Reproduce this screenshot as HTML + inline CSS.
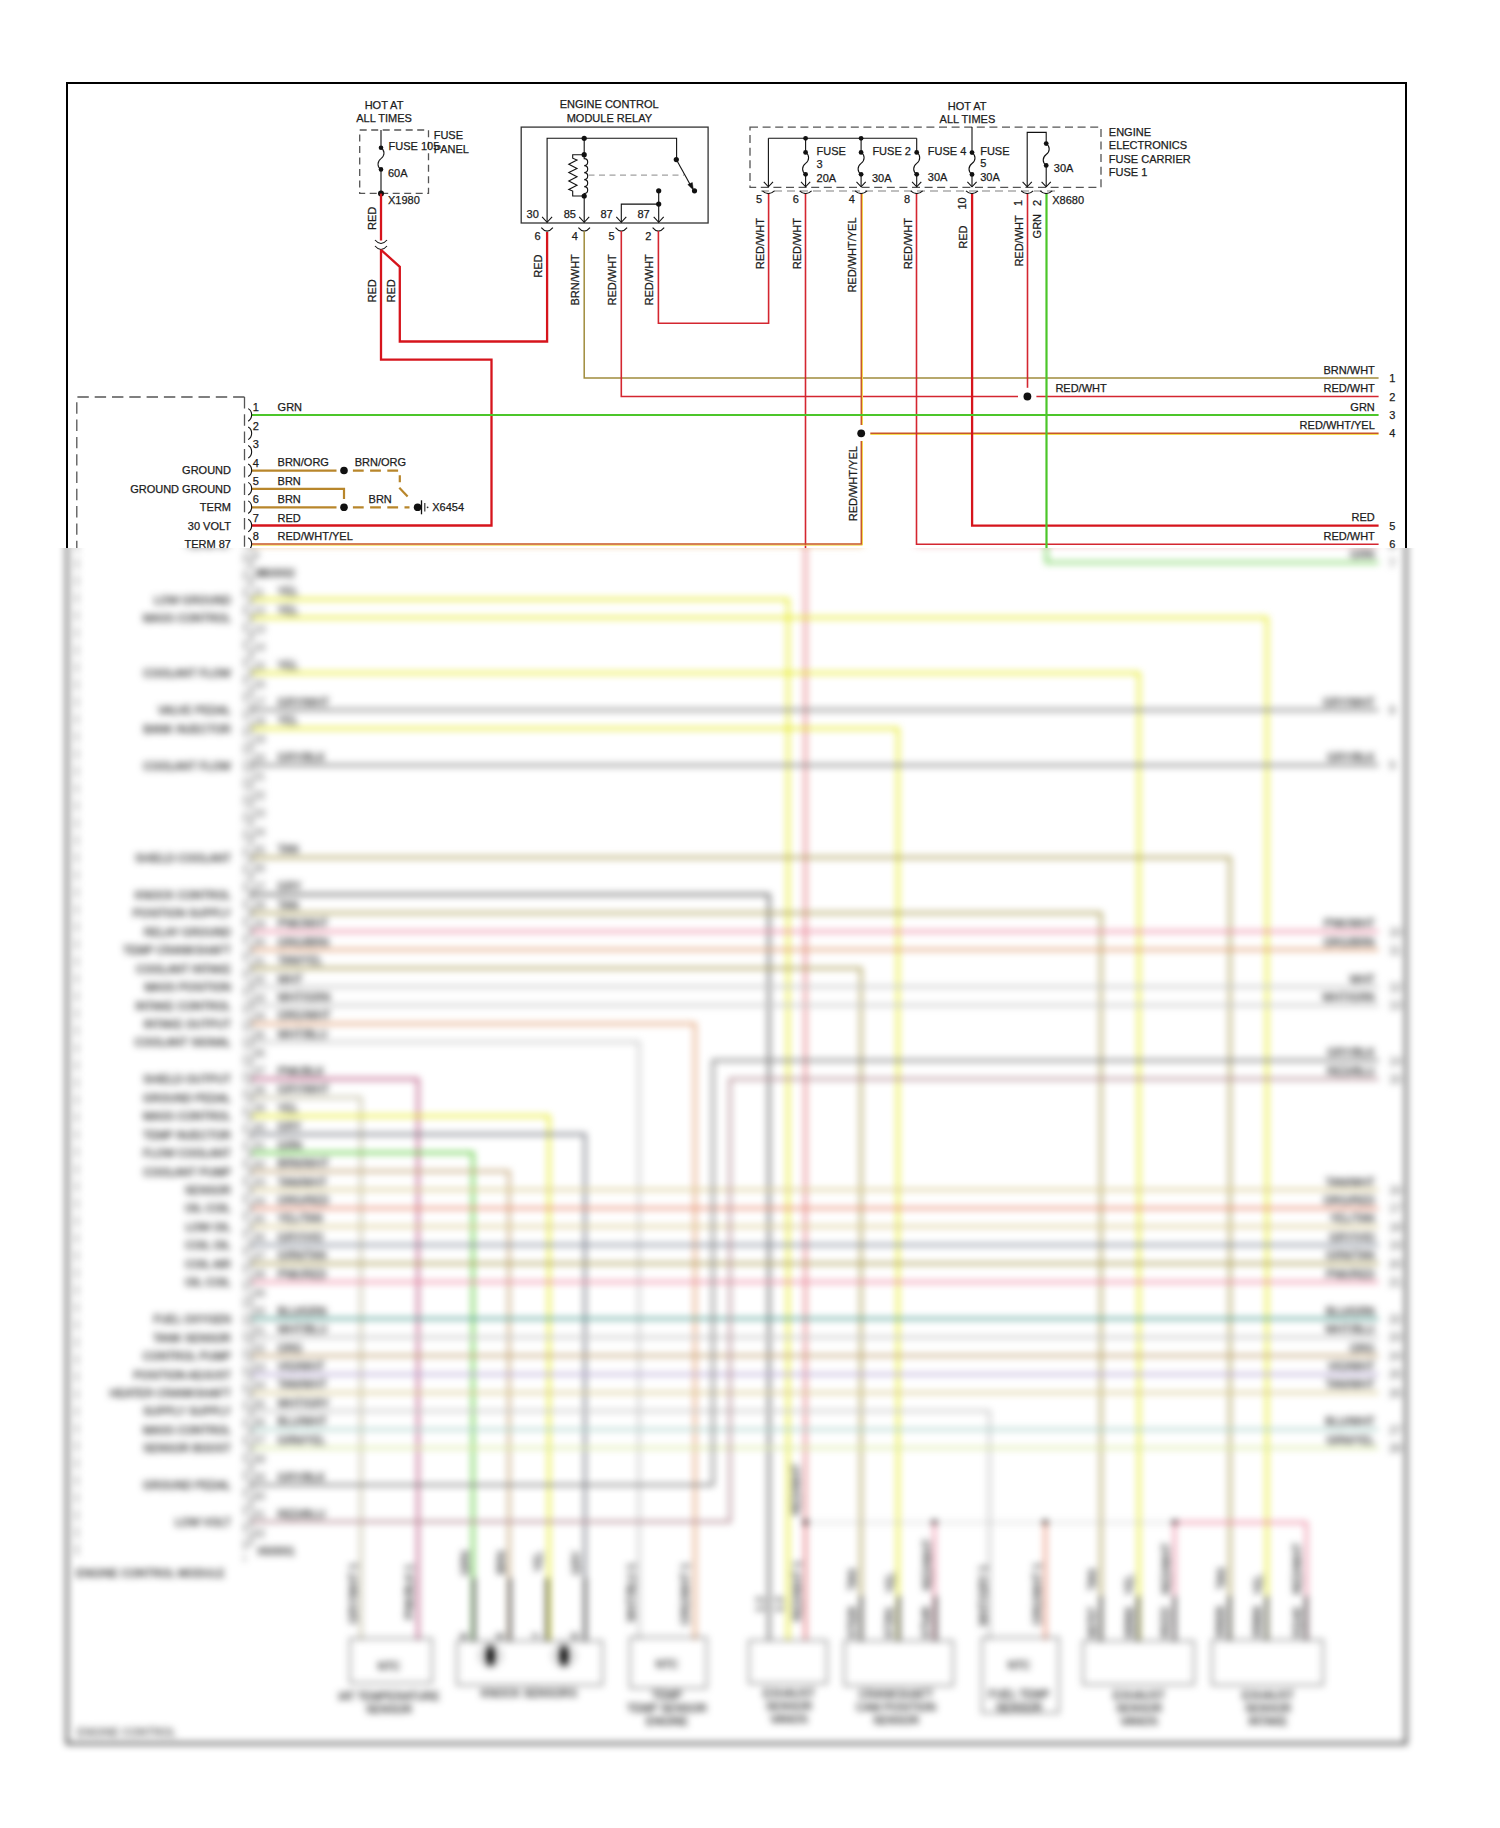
<!DOCTYPE html>
<html><head><meta charset="utf-8"><title>Wiring Diagram</title>
<style>
html,body{margin:0;padding:0;background:#fff;}
body{width:1500px;height:1828px;overflow:hidden;}
svg{display:block;}
.lb text{stroke-width:0.3px;}
text{font-family:"Liberation Sans",Arial,sans-serif;font-size:11px;fill:#1c1c1c;stroke:#1c1c1c;stroke-width:0.25px;}
</style></head><body>
<svg width="1500" height="1828" viewBox="0 0 1500 1828">
<defs>
<clipPath id="ct"><rect x="0" y="0" width="1500" height="548"/></clipPath>
<clipPath id="cb"><rect x="0" y="548" width="1500" height="1280"/></clipPath>
<filter id="bl" x="-2%" y="-2%" width="104%" height="104%" color-interpolation-filters="sRGB"><feGaussianBlur stdDeviation="3.5"/></filter>
</defs>
<rect width="1500" height="1828" fill="#fff"/>
<g clip-path="url(#ct)"><g id="dia">
<rect x="67" y="83" width="1339" height="1660.5" fill="none" stroke="#000" stroke-width="2"/>
<text x="384" y="109" text-anchor="middle">HOT AT</text>
<text x="384" y="122.2" text-anchor="middle">ALL TIMES</text>
<rect x="359.7" y="130" width="68.8" height="63.4" fill="none" stroke="#555" stroke-width="1.3" stroke-dasharray="7,4.5"/>
<line x1="381" y1="130" x2="381" y2="147.8" stroke="#333" stroke-width="1.3" stroke-linecap="butt"/>
<path d="M381,147.8 C385,150.39 385,155.58 381,158.6 C377,161.62 377,166.81 381,169.4" fill="none" stroke="#222" stroke-width="1.1"/>
<line x1="381" y1="169.4" x2="381" y2="193.6" stroke="#333" stroke-width="1.3" stroke-linecap="butt"/>
<circle cx="381" cy="147.8" r="2.3" fill="#111"/>
<circle cx="381" cy="169.4" r="2.3" fill="#111"/>
<circle cx="381" cy="193.6" r="3" fill="#111"/>
<text x="388.5" y="150">FUSE 105</text>
<text x="388" y="176.5">60A</text>
<text x="433.7" y="139.2">FUSE</text>
<text x="433.7" y="152.9">PANEL</text>
<text x="388" y="203.8">X1980</text>
<line x1="381" y1="193.6" x2="381" y2="240.5" stroke="#d6141c" stroke-width="2.3" stroke-linecap="butt"/>
<path d="M375,240 Q381,247 387,240" fill="none" stroke="#111" stroke-width="1.1"/>
<path d="M375,246 Q381,253 387,246" fill="none" stroke="#111" stroke-width="1.1"/>
<text transform="translate(376 230) rotate(-90)">RED</text>
<polyline points="381,249.8 381,359.6 491.5,359.6 491.5,525.5 252,525.5" fill="none" stroke="#d6141c" stroke-width="2.3" stroke-linejoin="miter"/>
<polyline points="381,249.8 399.8,266.8 399.8,341.5 547.1,341.5 547.1,232" fill="none" stroke="#d6141c" stroke-width="2.3" stroke-linejoin="miter"/>
<text transform="translate(376 302.5) rotate(-90)">RED</text>
<text transform="translate(395 302.5) rotate(-90)">RED</text>
<text x="609.2" y="108.3" text-anchor="middle">ENGINE CONTROL</text>
<text x="609.4" y="121.6" text-anchor="middle">MODULE RELAY</text>
<rect x="521.2" y="127.1" width="186.9" height="95.9" fill="none" stroke="#333" stroke-width="1.3"/>
<polyline points="547.1,222.5 547.1,138.3 676.6,138.3 676.6,159.6" fill="none" stroke="#111" stroke-width="1.1" stroke-linejoin="miter"/>
<polyline points="542.1,216.8 547.1,222.3 552.1,216.8" fill="none" stroke="#111" stroke-width="1.1" stroke-linejoin="miter"/>
<circle cx="584.2" cy="138.3" r="2.6" fill="#111"/>
<line x1="584.2" y1="138.3" x2="584.2" y2="154.7" stroke="#111" stroke-width="1.1" stroke-linecap="butt"/>
<circle cx="584.2" cy="154.7" r="2.6" fill="#111"/>
<path d="M584.2,154.7 L584.2,158.6 a3.5,3.5 0 0 1 0,7 a3.5,3.5 0 0 1 0,7 a3.5,3.5 0 0 1 0,7 a3.5,3.5 0 0 1 0,7 a3.5,3.5 0 0 1 0,7 L584.2,196" fill="none" stroke="#111" stroke-width="1.1"/>
<polyline points="584.2,154.7 572.7,154.7 572.7,158.2 577,160 568.8,164.2 577,168.4 568.8,172.6 577,176.8 568.8,181 577,185.2 568.8,189.4 572.7,191 572.7,196 584.2,196" fill="none" stroke="#111" stroke-width="1.1" stroke-linejoin="miter"/>
<circle cx="584.2" cy="196" r="2.6" fill="#111"/>
<line x1="584.2" y1="196" x2="584.2" y2="222.5" stroke="#111" stroke-width="1.1" stroke-linecap="butt"/>
<polyline points="579.2,216.8 584.2,222.3 589.2,216.8" fill="none" stroke="#111" stroke-width="1.1" stroke-linejoin="miter"/>
<line x1="588.5" y1="175.1" x2="684" y2="175.1" stroke="#888" stroke-width="1" stroke-linecap="butt" stroke-dasharray="6,4.5"/>
<circle cx="676.3" cy="159.6" r="2.6" fill="#111"/>
<line x1="676.3" y1="159.6" x2="691.8" y2="187.5" stroke="#111" stroke-width="1.1" stroke-linecap="butt"/>
<path d="M693.4,190 L687.8,184.6 L692.3,182.6 Z" fill="#111" stroke="#111" stroke-width="0.5"/>
<circle cx="694.5" cy="190.8" r="2.6" fill="#111"/>
<circle cx="658.7" cy="190.8" r="2.6" fill="#111"/>
<circle cx="658.7" cy="204.1" r="2.6" fill="#111"/>
<line x1="658.7" y1="190.8" x2="658.7" y2="222.5" stroke="#111" stroke-width="1.1" stroke-linecap="butt"/>
<polyline points="658.7,204.1 621.3,204.1 621.3,222.5" fill="none" stroke="#111" stroke-width="1.1" stroke-linejoin="miter"/>
<polyline points="616.3,216.8 621.3,222.3 626.3,216.8" fill="none" stroke="#111" stroke-width="1.1" stroke-linejoin="miter"/>
<polyline points="653.7,216.8 658.7,222.3 663.7,216.8" fill="none" stroke="#111" stroke-width="1.1" stroke-linejoin="miter"/>
<text x="526.6" y="218.2">30</text>
<text x="563.7" y="218.2">85</text>
<text x="600.5" y="218.2">87</text>
<text x="637.5" y="218.2">87</text>
<path d="M541.3,227.6 Q547.1,234.6 552.9,227.6" fill="none" stroke="#111" stroke-width="1.1"/>
<path d="M578.4,227.6 Q584.2,234.6 590,227.6" fill="none" stroke="#111" stroke-width="1.1"/>
<path d="M615.5,227.6 Q621.3,234.6 627.1,227.6" fill="none" stroke="#111" stroke-width="1.1"/>
<path d="M652.6,227.6 Q658.4,234.6 664.2,227.6" fill="none" stroke="#111" stroke-width="1.1"/>
<text x="534.6" y="239.6">6</text>
<text x="571.7" y="239.6">4</text>
<text x="608.4" y="239.6">5</text>
<text x="645.2" y="239.6">2</text>
<text transform="translate(541.8 277.8) rotate(-90)">RED</text>
<text transform="translate(579.3 305.5) rotate(-90)">BRN/WHT</text>
<text transform="translate(616 305.5) rotate(-90)">RED/WHT</text>
<text transform="translate(653 305.5) rotate(-90)">RED/WHT</text>
<polyline points="584.2,231 584.2,377.9 1378.6,377.9" fill="none" stroke="#a08c3c" stroke-width="1.5" stroke-linejoin="miter"/>
<polyline points="621.3,231 621.3,396.5 1018,396.5" fill="none" stroke="#d42630" stroke-width="1.6" stroke-linejoin="miter"/>
<line x1="1036.4" y1="396.5" x2="1378.6" y2="396.5" stroke="#d42630" stroke-width="1.6" stroke-linecap="butt"/>
<polyline points="658.4,231 658.4,323.3 768.6,323.3 768.6,193" fill="none" stroke="#d42630" stroke-width="1.6" stroke-linejoin="miter"/>
<text x="967.2" y="109.7" text-anchor="middle">HOT AT</text>
<text x="967.4" y="122.5" text-anchor="middle">ALL TIMES</text>
<rect x="750" y="127.1" width="351" height="60.2" fill="none" stroke="#555" stroke-width="1.3" stroke-dasharray="8,4.6"/>
<line x1="761" y1="191" x2="1056" y2="191" stroke="#aaa" stroke-width="1.3" stroke-linecap="butt" stroke-dasharray="8,5"/>
<line x1="768.4" y1="138.3" x2="916.7" y2="138.3" stroke="#111" stroke-width="1.1" stroke-linecap="butt"/>
<line x1="768.4" y1="138.3" x2="768.4" y2="186.8" stroke="#111" stroke-width="1.1" stroke-linecap="butt"/>
<polyline points="763.8,181.8 768.4,186.8 773,181.8" fill="none" stroke="#111" stroke-width="1.1" stroke-linejoin="miter"/>
<line x1="805.6" y1="138.3" x2="805.6" y2="152.4" stroke="#111" stroke-width="1.1" stroke-linecap="butt"/>
<path d="M805.6,152.4 C809.6,155.03 809.6,160.28 805.6,163.35 C801.6,166.42 801.6,171.67 805.6,174.3" fill="none" stroke="#111" stroke-width="1.1"/>
<line x1="805.6" y1="174.3" x2="805.6" y2="186.8" stroke="#111" stroke-width="1.1" stroke-linecap="butt"/>
<circle cx="805.6" cy="152.4" r="2.4" fill="#111"/>
<circle cx="805.6" cy="174.3" r="2.4" fill="#111"/>
<polyline points="801,181.8 805.6,186.8 810.2,181.8" fill="none" stroke="#111" stroke-width="1.1" stroke-linejoin="miter"/>
<line x1="861.1" y1="138.3" x2="861.1" y2="152.4" stroke="#111" stroke-width="1.1" stroke-linecap="butt"/>
<path d="M861.1,152.4 C865.1,155.03 865.1,160.28 861.1,163.35 C857.1,166.42 857.1,171.67 861.1,174.3" fill="none" stroke="#111" stroke-width="1.1"/>
<line x1="861.1" y1="174.3" x2="861.1" y2="186.8" stroke="#111" stroke-width="1.1" stroke-linecap="butt"/>
<circle cx="861.1" cy="152.4" r="2.4" fill="#111"/>
<circle cx="861.1" cy="174.3" r="2.4" fill="#111"/>
<polyline points="856.5,181.8 861.1,186.8 865.7,181.8" fill="none" stroke="#111" stroke-width="1.1" stroke-linejoin="miter"/>
<line x1="916.7" y1="138.3" x2="916.7" y2="152.4" stroke="#111" stroke-width="1.1" stroke-linecap="butt"/>
<path d="M916.7,152.4 C920.7,155.03 920.7,160.28 916.7,163.35 C912.7,166.42 912.7,171.67 916.7,174.3" fill="none" stroke="#111" stroke-width="1.1"/>
<line x1="916.7" y1="174.3" x2="916.7" y2="186.8" stroke="#111" stroke-width="1.1" stroke-linecap="butt"/>
<circle cx="916.7" cy="152.4" r="2.4" fill="#111"/>
<circle cx="916.7" cy="174.3" r="2.4" fill="#111"/>
<polyline points="912.1,181.8 916.7,186.8 921.3,181.8" fill="none" stroke="#111" stroke-width="1.1" stroke-linejoin="miter"/>
<circle cx="805.6" cy="138.3" r="2.4" fill="#111"/>
<circle cx="861.1" cy="138.3" r="2.4" fill="#111"/>
<line x1="972" y1="127" x2="972" y2="152.6" stroke="#111" stroke-width="1.1" stroke-linecap="butt"/>
<path d="M972,152.6 C976,155.22 976,160.45 972,163.5 C968,166.55 968,171.78 972,174.4" fill="none" stroke="#111" stroke-width="1.1"/>
<line x1="972" y1="174.4" x2="972" y2="186.8" stroke="#111" stroke-width="1.1" stroke-linecap="butt"/>
<circle cx="972" cy="152.6" r="2.4" fill="#111"/>
<circle cx="972" cy="174.4" r="2.4" fill="#111"/>
<polyline points="967.4,181.8 972,186.8 976.6,181.8" fill="none" stroke="#111" stroke-width="1.1" stroke-linejoin="miter"/>
<polyline points="1027.2,186.8 1027.2,132.4 1046.2,132.4 1046.2,143.6" fill="none" stroke="#111" stroke-width="1.1" stroke-linejoin="miter"/>
<polyline points="1022.6,181.8 1027.2,186.8 1031.8,181.8" fill="none" stroke="#111" stroke-width="1.1" stroke-linejoin="miter"/>
<path d="M1046.2,143.6 C1050.2,146.22 1050.2,151.45 1046.2,154.5 C1042.2,157.55 1042.2,162.78 1046.2,165.4" fill="none" stroke="#111" stroke-width="1.1"/>
<line x1="1046.2" y1="165.4" x2="1046.2" y2="186.8" stroke="#111" stroke-width="1.1" stroke-linecap="butt"/>
<circle cx="1046.2" cy="143.6" r="2.4" fill="#111"/>
<circle cx="1046.2" cy="165.4" r="2.4" fill="#111"/>
<polyline points="1041.6,181.8 1046.2,186.8 1050.8,181.8" fill="none" stroke="#111" stroke-width="1.1" stroke-linejoin="miter"/>
<text x="816.6" y="154.8">FUSE</text>
<text x="816.6" y="167.7">3</text>
<text x="816.6" y="181.8">20A</text>
<text x="872.4" y="154.8">FUSE 2</text>
<text x="872" y="181.8">30A</text>
<text x="927.8" y="154.5">FUSE 4</text>
<text x="927.8" y="180.5">30A</text>
<text x="980.2" y="154.5">FUSE</text>
<text x="980.2" y="167.2">5</text>
<text x="980.2" y="180.5">30A</text>
<text x="1053.8" y="171.5">30A</text>
<text x="1108.8" y="135.7">ENGINE</text>
<text x="1108.8" y="149.1">ELECTRONICS</text>
<text x="1108.8" y="162.5">FUSE CARRIER</text>
<text x="1108.8" y="175.7">FUSE 1</text>
<path d="M762.4,190.8 Q768.4,196.4 774.4,190.8" fill="none" stroke="#111" stroke-width="1.1"/>
<path d="M799.6,190.8 Q805.6,196.4 811.6,190.8" fill="none" stroke="#111" stroke-width="1.1"/>
<path d="M855.1,190.8 Q861.1,196.4 867.1,190.8" fill="none" stroke="#111" stroke-width="1.1"/>
<path d="M910.7,190.8 Q916.7,196.4 922.7,190.8" fill="none" stroke="#111" stroke-width="1.1"/>
<path d="M966,190.8 Q972,196.4 978,190.8" fill="none" stroke="#111" stroke-width="1.1"/>
<path d="M1021.2,190.8 Q1027.2,196.4 1033.2,190.8" fill="none" stroke="#111" stroke-width="1.1"/>
<path d="M1040.2,190.8 Q1046.2,196.4 1052.2,190.8" fill="none" stroke="#111" stroke-width="1.1"/>
<text x="756" y="203.4">5</text>
<text x="792.8" y="203.4">6</text>
<text x="848.8" y="203.4">4</text>
<text x="904" y="203.4">8</text>
<text transform="translate(966 209.5) rotate(-90)">10</text>
<text transform="translate(1022 206) rotate(-90)">1</text>
<text transform="translate(1040.6 206) rotate(-90)">2</text>
<text x="1052.2" y="203.7">X8680</text>
<text transform="translate(764.3 269.3) rotate(-90)">RED/WHT</text>
<text transform="translate(800.6 269.3) rotate(-90)">RED/WHT</text>
<text transform="translate(856.3 292.6) rotate(-90)">RED/WHT/YEL</text>
<text transform="translate(911.6 269.3) rotate(-90)">RED/WHT</text>
<text transform="translate(967.2 248.8) rotate(-90)">RED</text>
<text transform="translate(1022.5 266.6) rotate(-90)">RED/WHT</text>
<text transform="translate(1041.2 238.4) rotate(-90)">GRN</text>
<line x1="805.5" y1="194" x2="805.5" y2="1522.5" stroke="#d42630" stroke-width="1.6" stroke-linecap="butt"/>
<line x1="862.5" y1="194" x2="862.5" y2="425" stroke="#f4dc50" stroke-width="1" stroke-linecap="butt"/>
<line x1="862.5" y1="441" x2="862.5" y2="545" stroke="#f4dc50" stroke-width="1" stroke-linecap="butt"/>
<line x1="252" y1="545.2" x2="862.5" y2="545.2" stroke="#f4dc50" stroke-width="1" stroke-linecap="butt"/>
<line x1="870.3" y1="434.5" x2="1378.6" y2="434.5" stroke="#f4dc50" stroke-width="1" stroke-linecap="butt"/>
<polyline points="861.3,194 861.3,425" fill="none" stroke="#c8582a" stroke-width="1.5" stroke-linejoin="miter"/>
<polyline points="861.3,441 861.3,544 252,544" fill="none" stroke="#c8582a" stroke-width="1.5" stroke-linejoin="miter"/>
<line x1="870.3" y1="433.3" x2="1378.6" y2="433.3" stroke="#c8582a" stroke-width="1.5" stroke-linecap="butt"/>
<circle cx="861.2" cy="433.3" r="3.9" fill="#111"/>
<text transform="translate(856.5 521.3) rotate(-90)">RED/WHT/YEL</text>
<polyline points="916.5,194 916.5,544.3 1378.6,544.3" fill="none" stroke="#d42630" stroke-width="1.6" stroke-linejoin="miter"/>
<polyline points="972.1,194 972.1,525.6 1378.6,525.6" fill="none" stroke="#d6141c" stroke-width="2.3" stroke-linejoin="miter"/>
<line x1="1027.5" y1="194" x2="1027.5" y2="387.8" stroke="#d42630" stroke-width="1.6" stroke-linecap="butt"/>
<circle cx="1027.4" cy="396.5" r="3.9" fill="#111"/>
<polyline points="1046.5,194 1046.5,562.5 1378.6,562.5" fill="none" stroke="#4cc62a" stroke-width="2.2" stroke-linejoin="miter"/>
<text x="1374.8" y="373.7" text-anchor="end">BRN/WHT</text>
<text x="1389.2" y="382">1</text>
<text x="1374.8" y="392.3" text-anchor="end">RED/WHT</text>
<text x="1389.2" y="400.6">2</text>
<text x="1374.8" y="410.8" text-anchor="end">GRN</text>
<text x="1389.2" y="419.1">3</text>
<text x="1374.8" y="429.1" text-anchor="end">RED/WHT/YEL</text>
<text x="1389.2" y="437.4">4</text>
<text x="1374.8" y="521.4" text-anchor="end">RED</text>
<text x="1389.2" y="529.7">5</text>
<text x="1374.8" y="540.1" text-anchor="end">RED/WHT</text>
<text x="1389.2" y="548.4">6</text>
<text x="1055.4" y="392.2">RED/WHT</text>
<text x="277.6" y="410.8">GRN</text>
<text x="277.6" y="466.4">BRN/ORG</text>
<text x="277.6" y="484.8">BRN</text>
<text x="277.6" y="503.3">BRN</text>
<text x="277.6" y="521.6">RED</text>
<text x="277.6" y="540.1">RED/WHT/YEL</text>
<line x1="252" y1="470.6" x2="336.5" y2="470.6" stroke="#b8862b" stroke-width="2.2" stroke-linecap="butt"/>
<polyline points="252,488.8 344,488.8 344,499" fill="none" stroke="#b8862b" stroke-width="2.2" stroke-linejoin="miter"/>
<line x1="252" y1="507.3" x2="336.5" y2="507.3" stroke="#b8862b" stroke-width="2.2" stroke-linecap="butt"/>
<circle cx="344" cy="470.5" r="3.8" fill="#111"/>
<circle cx="344" cy="507.3" r="3.8" fill="#111"/>
<polyline points="352.9,470.6 399.8,470.6 399.8,482.3" fill="none" stroke="#b8862b" stroke-width="2.2" stroke-linejoin="miter" stroke-dasharray="10.8,6.4"/>
<line x1="399.3" y1="487.7" x2="407.6" y2="496.6" stroke="#b8862b" stroke-width="2.2" stroke-linecap="butt"/>
<polyline points="352.9,507.3 409.5,507.3" fill="none" stroke="#b8862b" stroke-width="2.2" stroke-linejoin="miter" stroke-dasharray="10.8,6.4"/>
<text x="354.7" y="466.4">BRN/ORG</text>
<text x="368.6" y="502.6">BRN</text>
<circle cx="417.6" cy="507.3" r="3.8" fill="#111"/>
<line x1="421.5" y1="500.3" x2="421.5" y2="514.3" stroke="#111" stroke-width="1.3" stroke-linecap="butt"/>
<line x1="424.8" y1="503" x2="424.8" y2="511.5" stroke="#333" stroke-width="1.2" stroke-linecap="butt"/>
<circle cx="427.6" cy="507.3" r="0.9" fill="#333"/>
<text x="432.2" y="511">X6454</text>
<line x1="252" y1="415" x2="1378.6" y2="415" stroke="#4cc62a" stroke-width="2.2" stroke-linecap="butt"/>
<path d="M244.5,397 L76.8,397 L76.8,1561" fill="none" stroke="#555" stroke-width="1.3" stroke-dasharray="11.4,5.9"/>
<line x1="244.5" y1="397" x2="244.5" y2="1561" stroke="#555" stroke-width="1.3" stroke-linecap="butt" stroke-dasharray="11.4,5.9"/>
<path d="M248.2,408.6 C252.8,411.3 252.8,418.3 248.2,421.2" fill="none" stroke="#111" stroke-width="1.1"/>
<text x="252.8" y="411.2">1</text>
<path d="M248.2,427.05 C252.8,429.75 252.8,436.75 248.2,439.65" fill="none" stroke="#111" stroke-width="1.1"/>
<text x="252.8" y="429.65">2</text>
<path d="M248.2,445.5 C252.8,448.2 252.8,455.2 248.2,458.1" fill="none" stroke="#111" stroke-width="1.1"/>
<text x="252.8" y="448.1">3</text>
<path d="M248.2,463.95 C252.8,466.65 252.8,473.65 248.2,476.55" fill="none" stroke="#111" stroke-width="1.1"/>
<text x="252.8" y="466.55">4</text>
<path d="M248.2,482.4 C252.8,485.1 252.8,492.1 248.2,495" fill="none" stroke="#111" stroke-width="1.1"/>
<text x="252.8" y="485">5</text>
<path d="M248.2,500.85 C252.8,503.55 252.8,510.55 248.2,513.45" fill="none" stroke="#111" stroke-width="1.1"/>
<text x="252.8" y="503.45">6</text>
<path d="M248.2,519.3 C252.8,522 252.8,529 248.2,531.9" fill="none" stroke="#111" stroke-width="1.1"/>
<text x="252.8" y="521.9">7</text>
<path d="M248.2,537.75 C252.8,540.45 252.8,547.45 248.2,550.35" fill="none" stroke="#111" stroke-width="1.1"/>
<text x="252.8" y="540.35">8</text>
<text x="231" y="474.45" text-anchor="end">GROUND</text>
<text x="231" y="492.9" text-anchor="end">GROUND GROUND</text>
<text x="231" y="511.35" text-anchor="end">TERM</text>
<text x="231" y="529.8" text-anchor="end">30 VOLT</text>
<text x="231" y="548.25" text-anchor="end">TERM 87</text>
<g class="lb">
<path d="M248.2,556.2 C252.8,558.9 252.8,565.9 248.2,568.8" fill="none" stroke="#111" stroke-width="1.1"/>
<text x="252.8" y="558.8" font-size="10" style="fill:#777;stroke:#777">9</text>
<path d="M248.2,574.65 C252.8,577.35 252.8,584.35 248.2,587.25" fill="none" stroke="#111" stroke-width="1.1"/>
<text x="252.8" y="577.25" font-size="10" style="fill:#777;stroke:#777">10</text>
<path d="M248.2,593.1 C252.8,595.8 252.8,602.8 248.2,605.7" fill="none" stroke="#111" stroke-width="1.1"/>
<text x="252.8" y="595.7" font-size="10" style="fill:#777;stroke:#777">11</text>
<path d="M248.2,611.55 C252.8,614.25 252.8,621.25 248.2,624.15" fill="none" stroke="#111" stroke-width="1.1"/>
<text x="252.8" y="614.15" font-size="10" style="fill:#777;stroke:#777">12</text>
<path d="M248.2,630 C252.8,632.7 252.8,639.7 248.2,642.6" fill="none" stroke="#111" stroke-width="1.1"/>
<text x="252.8" y="632.6" font-size="10" style="fill:#777;stroke:#777">13</text>
<path d="M248.2,648.45 C252.8,651.15 252.8,658.15 248.2,661.05" fill="none" stroke="#111" stroke-width="1.1"/>
<text x="252.8" y="651.05" font-size="10" style="fill:#777;stroke:#777">14</text>
<path d="M248.2,666.9 C252.8,669.6 252.8,676.6 248.2,679.5" fill="none" stroke="#111" stroke-width="1.1"/>
<text x="252.8" y="669.5" font-size="10" style="fill:#777;stroke:#777">15</text>
<path d="M248.2,685.35 C252.8,688.05 252.8,695.05 248.2,697.95" fill="none" stroke="#111" stroke-width="1.1"/>
<text x="252.8" y="687.95" font-size="10" style="fill:#777;stroke:#777">16</text>
<path d="M248.2,703.8 C252.8,706.5 252.8,713.5 248.2,716.4" fill="none" stroke="#111" stroke-width="1.1"/>
<text x="252.8" y="706.4" font-size="10" style="fill:#777;stroke:#777">17</text>
<path d="M248.2,722.25 C252.8,724.95 252.8,731.95 248.2,734.85" fill="none" stroke="#111" stroke-width="1.1"/>
<text x="252.8" y="724.85" font-size="10" style="fill:#777;stroke:#777">18</text>
<path d="M248.2,740.7 C252.8,743.4 252.8,750.4 248.2,753.3" fill="none" stroke="#111" stroke-width="1.1"/>
<text x="252.8" y="743.3" font-size="10" style="fill:#777;stroke:#777">19</text>
<path d="M248.2,759.15 C252.8,761.85 252.8,768.85 248.2,771.75" fill="none" stroke="#111" stroke-width="1.1"/>
<text x="252.8" y="761.75" font-size="10" style="fill:#777;stroke:#777">20</text>
<path d="M248.2,777.6 C252.8,780.3 252.8,787.3 248.2,790.2" fill="none" stroke="#111" stroke-width="1.1"/>
<text x="252.8" y="780.2" font-size="10" style="fill:#777;stroke:#777">21</text>
<path d="M248.2,796.05 C252.8,798.75 252.8,805.75 248.2,808.65" fill="none" stroke="#111" stroke-width="1.1"/>
<text x="252.8" y="798.65" font-size="10" style="fill:#777;stroke:#777">22</text>
<path d="M248.2,814.5 C252.8,817.2 252.8,824.2 248.2,827.1" fill="none" stroke="#111" stroke-width="1.1"/>
<text x="252.8" y="817.1" font-size="10" style="fill:#777;stroke:#777">23</text>
<path d="M248.2,832.95 C252.8,835.65 252.8,842.65 248.2,845.55" fill="none" stroke="#111" stroke-width="1.1"/>
<text x="252.8" y="835.55" font-size="10" style="fill:#777;stroke:#777">24</text>
<path d="M248.2,851.4 C252.8,854.1 252.8,861.1 248.2,864" fill="none" stroke="#111" stroke-width="1.1"/>
<text x="252.8" y="854" font-size="10" style="fill:#777;stroke:#777">25</text>
<path d="M248.2,869.85 C252.8,872.55 252.8,879.55 248.2,882.45" fill="none" stroke="#111" stroke-width="1.1"/>
<text x="252.8" y="872.45" font-size="10" style="fill:#777;stroke:#777">26</text>
<path d="M248.2,888.3 C252.8,891 252.8,898 248.2,900.9" fill="none" stroke="#111" stroke-width="1.1"/>
<text x="252.8" y="890.9" font-size="10" style="fill:#777;stroke:#777">27</text>
<path d="M248.2,906.75 C252.8,909.45 252.8,916.45 248.2,919.35" fill="none" stroke="#111" stroke-width="1.1"/>
<text x="252.8" y="909.35" font-size="10" style="fill:#777;stroke:#777">28</text>
<path d="M248.2,925.2 C252.8,927.9 252.8,934.9 248.2,937.8" fill="none" stroke="#111" stroke-width="1.1"/>
<text x="252.8" y="927.8" font-size="10" style="fill:#777;stroke:#777">29</text>
<path d="M248.2,943.65 C252.8,946.35 252.8,953.35 248.2,956.25" fill="none" stroke="#111" stroke-width="1.1"/>
<text x="252.8" y="946.25" font-size="10" style="fill:#777;stroke:#777">30</text>
<path d="M248.2,962.1 C252.8,964.8 252.8,971.8 248.2,974.7" fill="none" stroke="#111" stroke-width="1.1"/>
<text x="252.8" y="964.7" font-size="10" style="fill:#777;stroke:#777">31</text>
<path d="M248.2,980.55 C252.8,983.25 252.8,990.25 248.2,993.15" fill="none" stroke="#111" stroke-width="1.1"/>
<text x="252.8" y="983.15" font-size="10" style="fill:#777;stroke:#777">32</text>
<path d="M248.2,999 C252.8,1001.7 252.8,1008.7 248.2,1011.6" fill="none" stroke="#111" stroke-width="1.1"/>
<text x="252.8" y="1001.6" font-size="10" style="fill:#777;stroke:#777">33</text>
<path d="M248.2,1017.45 C252.8,1020.15 252.8,1027.15 248.2,1030.05" fill="none" stroke="#111" stroke-width="1.1"/>
<text x="252.8" y="1020.05" font-size="10" style="fill:#777;stroke:#777">34</text>
<path d="M248.2,1035.9 C252.8,1038.6 252.8,1045.6 248.2,1048.5" fill="none" stroke="#111" stroke-width="1.1"/>
<text x="252.8" y="1038.5" font-size="10" style="fill:#777;stroke:#777">35</text>
<path d="M248.2,1054.35 C252.8,1057.05 252.8,1064.05 248.2,1066.95" fill="none" stroke="#111" stroke-width="1.1"/>
<text x="252.8" y="1056.95" font-size="10" style="fill:#777;stroke:#777">36</text>
<path d="M248.2,1072.8 C252.8,1075.5 252.8,1082.5 248.2,1085.4" fill="none" stroke="#111" stroke-width="1.1"/>
<text x="252.8" y="1075.4" font-size="10" style="fill:#777;stroke:#777">37</text>
<path d="M248.2,1091.25 C252.8,1093.95 252.8,1100.95 248.2,1103.85" fill="none" stroke="#111" stroke-width="1.1"/>
<text x="252.8" y="1093.85" font-size="10" style="fill:#777;stroke:#777">38</text>
<path d="M248.2,1109.7 C252.8,1112.4 252.8,1119.4 248.2,1122.3" fill="none" stroke="#111" stroke-width="1.1"/>
<text x="252.8" y="1112.3" font-size="10" style="fill:#777;stroke:#777">39</text>
<path d="M248.2,1128.15 C252.8,1130.85 252.8,1137.85 248.2,1140.75" fill="none" stroke="#111" stroke-width="1.1"/>
<text x="252.8" y="1130.75" font-size="10" style="fill:#777;stroke:#777">40</text>
<path d="M248.2,1146.6 C252.8,1149.3 252.8,1156.3 248.2,1159.2" fill="none" stroke="#111" stroke-width="1.1"/>
<text x="252.8" y="1149.2" font-size="10" style="fill:#777;stroke:#777">41</text>
<path d="M248.2,1165.05 C252.8,1167.75 252.8,1174.75 248.2,1177.65" fill="none" stroke="#111" stroke-width="1.1"/>
<text x="252.8" y="1167.65" font-size="10" style="fill:#777;stroke:#777">42</text>
<path d="M248.2,1183.5 C252.8,1186.2 252.8,1193.2 248.2,1196.1" fill="none" stroke="#111" stroke-width="1.1"/>
<text x="252.8" y="1186.1" font-size="10" style="fill:#777;stroke:#777">43</text>
<path d="M248.2,1201.95 C252.8,1204.65 252.8,1211.65 248.2,1214.55" fill="none" stroke="#111" stroke-width="1.1"/>
<text x="252.8" y="1204.55" font-size="10" style="fill:#777;stroke:#777">44</text>
<path d="M248.2,1220.4 C252.8,1223.1 252.8,1230.1 248.2,1233" fill="none" stroke="#111" stroke-width="1.1"/>
<text x="252.8" y="1223" font-size="10" style="fill:#777;stroke:#777">45</text>
<path d="M248.2,1238.85 C252.8,1241.55 252.8,1248.55 248.2,1251.45" fill="none" stroke="#111" stroke-width="1.1"/>
<text x="252.8" y="1241.45" font-size="10" style="fill:#777;stroke:#777">46</text>
<path d="M248.2,1257.3 C252.8,1260 252.8,1267 248.2,1269.9" fill="none" stroke="#111" stroke-width="1.1"/>
<text x="252.8" y="1259.9" font-size="10" style="fill:#777;stroke:#777">47</text>
<path d="M248.2,1275.75 C252.8,1278.45 252.8,1285.45 248.2,1288.35" fill="none" stroke="#111" stroke-width="1.1"/>
<text x="252.8" y="1278.35" font-size="10" style="fill:#777;stroke:#777">48</text>
<path d="M248.2,1294.2 C252.8,1296.9 252.8,1303.9 248.2,1306.8" fill="none" stroke="#111" stroke-width="1.1"/>
<text x="252.8" y="1296.8" font-size="10" style="fill:#777;stroke:#777">49</text>
<path d="M248.2,1312.65 C252.8,1315.35 252.8,1322.35 248.2,1325.25" fill="none" stroke="#111" stroke-width="1.1"/>
<text x="252.8" y="1315.25" font-size="10" style="fill:#777;stroke:#777">50</text>
<path d="M248.2,1331.1 C252.8,1333.8 252.8,1340.8 248.2,1343.7" fill="none" stroke="#111" stroke-width="1.1"/>
<text x="252.8" y="1333.7" font-size="10" style="fill:#777;stroke:#777">51</text>
<path d="M248.2,1349.55 C252.8,1352.25 252.8,1359.25 248.2,1362.15" fill="none" stroke="#111" stroke-width="1.1"/>
<text x="252.8" y="1352.15" font-size="10" style="fill:#777;stroke:#777">52</text>
<path d="M248.2,1368 C252.8,1370.7 252.8,1377.7 248.2,1380.6" fill="none" stroke="#111" stroke-width="1.1"/>
<text x="252.8" y="1370.6" font-size="10" style="fill:#777;stroke:#777">53</text>
<path d="M248.2,1386.45 C252.8,1389.15 252.8,1396.15 248.2,1399.05" fill="none" stroke="#111" stroke-width="1.1"/>
<text x="252.8" y="1389.05" font-size="10" style="fill:#777;stroke:#777">54</text>
<path d="M248.2,1404.9 C252.8,1407.6 252.8,1414.6 248.2,1417.5" fill="none" stroke="#111" stroke-width="1.1"/>
<text x="252.8" y="1407.5" font-size="10" style="fill:#777;stroke:#777">55</text>
<path d="M248.2,1423.35 C252.8,1426.05 252.8,1433.05 248.2,1435.95" fill="none" stroke="#111" stroke-width="1.1"/>
<text x="252.8" y="1425.95" font-size="10" style="fill:#777;stroke:#777">56</text>
<path d="M248.2,1441.8 C252.8,1444.5 252.8,1451.5 248.2,1454.4" fill="none" stroke="#111" stroke-width="1.1"/>
<text x="252.8" y="1444.4" font-size="10" style="fill:#777;stroke:#777">57</text>
<path d="M248.2,1460.25 C252.8,1462.95 252.8,1469.95 248.2,1472.85" fill="none" stroke="#111" stroke-width="1.1"/>
<text x="252.8" y="1462.85" font-size="10" style="fill:#777;stroke:#777">58</text>
<path d="M248.2,1478.7 C252.8,1481.4 252.8,1488.4 248.2,1491.3" fill="none" stroke="#111" stroke-width="1.1"/>
<text x="252.8" y="1481.3" font-size="10" style="fill:#777;stroke:#777">59</text>
<path d="M248.2,1497.15 C252.8,1499.85 252.8,1506.85 248.2,1509.75" fill="none" stroke="#111" stroke-width="1.1"/>
<text x="252.8" y="1499.75" font-size="10" style="fill:#777;stroke:#777">60</text>
<path d="M248.2,1515.6 C252.8,1518.3 252.8,1525.3 248.2,1528.2" fill="none" stroke="#111" stroke-width="1.1"/>
<text x="252.8" y="1518.2" font-size="10" style="fill:#777;stroke:#777">61</text>
<path d="M248.2,1534.05 C252.8,1536.75 252.8,1543.75 248.2,1546.65" fill="none" stroke="#111" stroke-width="1.1"/>
<text x="252.8" y="1536.65" font-size="10" style="fill:#777;stroke:#777">62</text>
<text x="257" y="576.5">X60002</text>
<text x="257" y="1555">X60001</text>
<text x="76" y="1577">ENGINE CONTROL MODULE</text>
<text x="231" y="603.6" text-anchor="end">LOW GROUND</text>
<text x="277.6" y="595.1">YEL</text>
<polyline points="252,599.3 788,599.3 788,1640" fill="none" stroke="#e4e812" stroke-width="2.5" stroke-linejoin="miter"/>
<text x="231" y="622.05" text-anchor="end">MASS CONTROL</text>
<text x="277.6" y="613.55">YEL</text>
<polyline points="252,617.75 1267,617.75 1267,1640" fill="none" stroke="#e4e812" stroke-width="2.5" stroke-linejoin="miter"/>
<text x="231" y="677.4" text-anchor="end">COOLANT FLOW</text>
<text x="277.6" y="668.9">YEL</text>
<polyline points="252,673.1 1139,673.1 1139,1640" fill="none" stroke="#e4e812" stroke-width="2.5" stroke-linejoin="miter"/>
<text x="231" y="714.3" text-anchor="end">VALVE PEDAL</text>
<text x="277.6" y="705.8">GRY/WHT</text>
<line x1="252" y1="710" x2="1378.6" y2="710" stroke="#7c7c7c" stroke-width="2.5" stroke-linecap="butt"/>
<text x="231" y="732.75" text-anchor="end">BANK INJECTOR</text>
<text x="277.6" y="724.25">YEL</text>
<polyline points="252,728.45 898,728.45 898,1640" fill="none" stroke="#e4e812" stroke-width="2.5" stroke-linejoin="miter"/>
<text x="231" y="769.65" text-anchor="end">COOLANT FLOW</text>
<text x="277.6" y="761.15">GRY/BLK</text>
<line x1="252" y1="765.35" x2="1378.6" y2="765.35" stroke="#7c7c7c" stroke-width="2.5" stroke-linecap="butt"/>
<text x="231" y="861.9" text-anchor="end">SHIELD COOLANT</text>
<text x="277.6" y="853.4">TAN</text>
<polyline points="252,857.6 1230,857.6 1230,1640" fill="none" stroke="#a89a50" stroke-width="2.5" stroke-linejoin="miter"/>
<text x="231" y="898.8" text-anchor="end">KNOCK CONTROL</text>
<text x="277.6" y="890.3">GRY</text>
<polyline points="252,894.5 769,894.5 769,1640" fill="none" stroke="#5a5a5a" stroke-width="2.5" stroke-linejoin="miter"/>
<text x="231" y="917.25" text-anchor="end">POSITION SUPPLY</text>
<text x="277.6" y="908.75">TAN</text>
<polyline points="252,912.95 1101,912.95 1101,1640" fill="none" stroke="#a89a50" stroke-width="2.5" stroke-linejoin="miter"/>
<text x="231" y="935.7" text-anchor="end">RELAY GROUND</text>
<text x="277.6" y="927.2">PNK/WHT</text>
<line x1="252" y1="931.4" x2="1378.6" y2="931.4" stroke="#ec86a0" stroke-width="2.5" stroke-linecap="butt"/>
<text x="231" y="954.15" text-anchor="end">TEMP CRANKSHAFT</text>
<text x="277.6" y="945.65">ORG/BRN</text>
<line x1="252" y1="949.85" x2="1378.6" y2="949.85" stroke="#e09a6c" stroke-width="2.5" stroke-linecap="butt"/>
<text x="231" y="972.6" text-anchor="end">COOLANT INTAKE</text>
<text x="277.6" y="964.1">TAN/YEL</text>
<polyline points="252,968.3 861,968.3 861,1640" fill="none" stroke="#a89a50" stroke-width="2.5" stroke-linejoin="miter"/>
<text x="231" y="991.05" text-anchor="end">MASS POSITION</text>
<text x="277.6" y="982.55">WHT</text>
<line x1="252" y1="986.75" x2="1378.6" y2="986.75" stroke="#c4c4c4" stroke-width="2.5" stroke-linecap="butt"/>
<text x="231" y="1009.5" text-anchor="end">INTAKE CONTROL</text>
<text x="277.6" y="1001">WHT/GRN</text>
<line x1="252" y1="1005.2" x2="1378.6" y2="1005.2" stroke="#c4c4c4" stroke-width="2.5" stroke-linecap="butt"/>
<text x="231" y="1027.95" text-anchor="end">INTAKE OUTPUT</text>
<text x="277.6" y="1019.45">ORG/WHT</text>
<polyline points="252,1023.65 695,1023.65 695,1640" fill="none" stroke="#e09a6c" stroke-width="2.5" stroke-linejoin="miter"/>
<text x="231" y="1046.4" text-anchor="end">COOLANT SIGNAL</text>
<text x="277.6" y="1037.9">WHT/BLU</text>
<polyline points="252,1042.1 639,1042.1 639,1640" fill="none" stroke="#c4c4c4" stroke-width="2.5" stroke-linejoin="miter"/>
<text x="231" y="1083.3" text-anchor="end">SHIELD OUTPUT</text>
<text x="277.6" y="1074.8">PNK/BLK</text>
<polyline points="252,1079 418,1079 418,1640" fill="none" stroke="#b8507e" stroke-width="2.5" stroke-linejoin="miter"/>
<text x="231" y="1101.75" text-anchor="end">GROUND PEDAL</text>
<text x="277.6" y="1093.25">GRY/WHT</text>
<polyline points="252,1097.45 361,1097.45 361,1640" fill="none" stroke="#c0bca0" stroke-width="2.5" stroke-linejoin="miter"/>
<text x="231" y="1120.2" text-anchor="end">MASS CONTROL</text>
<text x="277.6" y="1111.7">YEL</text>
<polyline points="252,1115.9 549,1115.9 549,1640" fill="none" stroke="#e4e812" stroke-width="2.5" stroke-linejoin="miter"/>
<text x="231" y="1138.65" text-anchor="end">TEMP INJECTOR</text>
<text x="277.6" y="1130.15">GRY</text>
<polyline points="252,1134.35 585,1134.35 585,1640" fill="none" stroke="#6a6e78" stroke-width="2.5" stroke-linejoin="miter"/>
<text x="231" y="1157.1" text-anchor="end">FLOW COOLANT</text>
<text x="277.6" y="1148.6">GRN</text>
<polyline points="252,1152.8 473,1152.8 473,1640" fill="none" stroke="#4cc62a" stroke-width="2.5" stroke-linejoin="miter"/>
<text x="231" y="1175.55" text-anchor="end">COOLANT PUMP</text>
<text x="277.6" y="1167.05">BRN/WHT</text>
<polyline points="252,1171.25 509,1171.25 509,1640" fill="none" stroke="#c0a070" stroke-width="2.5" stroke-linejoin="miter"/>
<text x="231" y="1194" text-anchor="end">SENSOR</text>
<text x="277.6" y="1185.5">TAN/WHT</text>
<line x1="252" y1="1189.7" x2="1378.6" y2="1189.7" stroke="#d8c88c" stroke-width="2.5" stroke-linecap="butt"/>
<text x="231" y="1212.45" text-anchor="end">OIL COIL</text>
<text x="277.6" y="1203.95">ORG/RED</text>
<line x1="252" y1="1208.15" x2="1378.6" y2="1208.15" stroke="#e8886c" stroke-width="2.5" stroke-linecap="butt"/>
<text x="231" y="1230.9" text-anchor="end">LOW OIL</text>
<text x="277.6" y="1222.4">YEL/TAN</text>
<line x1="252" y1="1226.6" x2="1378.6" y2="1226.6" stroke="#d8c88c" stroke-width="2.5" stroke-linecap="butt"/>
<text x="231" y="1249.35" text-anchor="end">COIL OIL</text>
<text x="277.6" y="1240.85">GRY/VIO</text>
<line x1="252" y1="1245.05" x2="1378.6" y2="1245.05" stroke="#7c8494" stroke-width="2.5" stroke-linecap="butt"/>
<text x="231" y="1267.8" text-anchor="end">COIL AIR</text>
<text x="277.6" y="1259.3">GRN/TAN</text>
<line x1="252" y1="1263.5" x2="1378.6" y2="1263.5" stroke="#a89a50" stroke-width="2.5" stroke-linecap="butt"/>
<text x="231" y="1286.25" text-anchor="end">OIL COIL</text>
<text x="277.6" y="1277.75">PNK/RED</text>
<line x1="252" y1="1281.95" x2="1378.6" y2="1281.95" stroke="#ec86a0" stroke-width="2.5" stroke-linecap="butt"/>
<text x="231" y="1323.15" text-anchor="end">FUEL OXYGEN</text>
<text x="277.6" y="1314.65">BLU/GRN</text>
<line x1="252" y1="1318.85" x2="1378.6" y2="1318.85" stroke="#4c9c90" stroke-width="2.5" stroke-linecap="butt"/>
<text x="231" y="1341.6" text-anchor="end">TANK SENSOR</text>
<text x="277.6" y="1333.1">WHT/BLU</text>
<line x1="252" y1="1337.3" x2="1378.6" y2="1337.3" stroke="#c4c4c4" stroke-width="2.5" stroke-linecap="butt"/>
<text x="231" y="1360.05" text-anchor="end">CONTROL PUMP</text>
<text x="277.6" y="1351.55">ORG</text>
<line x1="252" y1="1355.75" x2="1378.6" y2="1355.75" stroke="#c0a070" stroke-width="2.5" stroke-linecap="butt"/>
<text x="231" y="1378.5" text-anchor="end">POSITION ADJUST</text>
<text x="277.6" y="1370">VIO/WHT</text>
<line x1="252" y1="1374.2" x2="1378.6" y2="1374.2" stroke="#b4a4d4" stroke-width="2.5" stroke-linecap="butt"/>
<text x="231" y="1396.95" text-anchor="end">HEATER CRANKSHAFT</text>
<text x="277.6" y="1388.45">TAN/WHT</text>
<line x1="252" y1="1392.65" x2="1378.6" y2="1392.65" stroke="#d8c88c" stroke-width="2.5" stroke-linecap="butt"/>
<text x="231" y="1415.4" text-anchor="end">SUPPLY SUPPLY</text>
<text x="277.6" y="1406.9">WHT/GRY</text>
<polyline points="252,1411.1 989.5,1411.1 989.5,1640" fill="none" stroke="#c4c4c4" stroke-width="2.5" stroke-linejoin="miter"/>
<text x="231" y="1433.85" text-anchor="end">MASS CONTROL</text>
<text x="277.6" y="1425.35">BLU/WHT</text>
<line x1="252" y1="1429.55" x2="1378.6" y2="1429.55" stroke="#a8d0c8" stroke-width="2.5" stroke-linecap="butt"/>
<text x="231" y="1452.3" text-anchor="end">SENSOR BOOST</text>
<text x="277.6" y="1443.8">GRN/YEL</text>
<line x1="252" y1="1448" x2="1378.6" y2="1448" stroke="#d8e8a0" stroke-width="2.5" stroke-linecap="butt"/>
<text x="231" y="1489.2" text-anchor="end">GROUND PEDAL</text>
<text x="277.6" y="1480.7">GRY/BLK</text>
<polyline points="252,1484.9 713,1484.9 713,1060.55 1378.6,1060.55" fill="none" stroke="#7c7c7c" stroke-width="2.5" stroke-linejoin="miter"/>
<text x="231" y="1526.1" text-anchor="end">LOW VOLT</text>
<text x="277.6" y="1517.6">RED/BLU</text>
<polyline points="252,1521.8 730,1521.8 730,1079 1378.6,1079" fill="none" stroke="#b08890" stroke-width="2.5" stroke-linejoin="miter"/>
<text x="1374.8" y="558.2" text-anchor="end">GRN</text>
<text x="1389.2" y="566.5" font-size="10" style="fill:#777;stroke:#777">7</text>
<text x="1374.8" y="705.8" text-anchor="end">GRY/WHT</text>
<text x="1389.2" y="714.1" font-size="10" style="fill:#777;stroke:#777">8</text>
<text x="1374.8" y="761.15" text-anchor="end">GRY/BLK</text>
<text x="1389.2" y="769.45" font-size="10" style="fill:#777;stroke:#777">9</text>
<text x="1374.8" y="927.2" text-anchor="end">PNK/WHT</text>
<text x="1389.2" y="935.5" font-size="10" style="fill:#777;stroke:#777">10</text>
<text x="1374.8" y="945.65" text-anchor="end">ORG/BRN</text>
<text x="1389.2" y="953.95" font-size="10" style="fill:#777;stroke:#777">11</text>
<text x="1374.8" y="982.55" text-anchor="end">WHT</text>
<text x="1389.2" y="990.85" font-size="10" style="fill:#777;stroke:#777">12</text>
<text x="1374.8" y="1001" text-anchor="end">WHT/GRN</text>
<text x="1389.2" y="1009.3" font-size="10" style="fill:#777;stroke:#777">13</text>
<text x="1374.8" y="1056.35" text-anchor="end">GRY/BLK</text>
<text x="1389.2" y="1064.65" font-size="10" style="fill:#777;stroke:#777">14</text>
<text x="1374.8" y="1074.8" text-anchor="end">RED/BLU</text>
<text x="1389.2" y="1083.1" font-size="10" style="fill:#777;stroke:#777">15</text>
<text x="1374.8" y="1185.5" text-anchor="end">TAN/WHT</text>
<text x="1389.2" y="1193.8" font-size="10" style="fill:#777;stroke:#777">16</text>
<text x="1374.8" y="1203.95" text-anchor="end">ORG/RED</text>
<text x="1389.2" y="1212.25" font-size="10" style="fill:#777;stroke:#777">17</text>
<text x="1374.8" y="1222.4" text-anchor="end">YEL/TAN</text>
<text x="1389.2" y="1230.7" font-size="10" style="fill:#777;stroke:#777">18</text>
<text x="1374.8" y="1240.85" text-anchor="end">GRY/VIO</text>
<text x="1389.2" y="1249.15" font-size="10" style="fill:#777;stroke:#777">19</text>
<text x="1374.8" y="1259.3" text-anchor="end">GRN/TAN</text>
<text x="1389.2" y="1267.6" font-size="10" style="fill:#777;stroke:#777">20</text>
<text x="1374.8" y="1277.75" text-anchor="end">PNK/RED</text>
<text x="1389.2" y="1286.05" font-size="10" style="fill:#777;stroke:#777">21</text>
<text x="1374.8" y="1314.65" text-anchor="end">BLU/GRN</text>
<text x="1389.2" y="1322.95" font-size="10" style="fill:#777;stroke:#777">22</text>
<text x="1374.8" y="1333.1" text-anchor="end">WHT/BLU</text>
<text x="1389.2" y="1341.4" font-size="10" style="fill:#777;stroke:#777">23</text>
<text x="1374.8" y="1351.55" text-anchor="end">ORG</text>
<text x="1389.2" y="1359.85" font-size="10" style="fill:#777;stroke:#777">24</text>
<text x="1374.8" y="1370" text-anchor="end">VIO/WHT</text>
<text x="1389.2" y="1378.3" font-size="10" style="fill:#777;stroke:#777">25</text>
<text x="1374.8" y="1388.45" text-anchor="end">TAN/WHT</text>
<text x="1389.2" y="1396.75" font-size="10" style="fill:#777;stroke:#777">26</text>
<text x="1374.8" y="1425.35" text-anchor="end">BLU/WHT</text>
<text x="1389.2" y="1433.65" font-size="10" style="fill:#777;stroke:#777">27</text>
<text x="1374.8" y="1443.8" text-anchor="end">GRN/YEL</text>
<text x="1389.2" y="1452.1" font-size="10" style="fill:#777;stroke:#777">28</text>
<line x1="805.5" y1="1522.5" x2="1174.7" y2="1522.5" stroke="#aaa" stroke-width="0.9" stroke-linecap="butt"/>
<polyline points="1174.7,1522.5 1306.5,1522.5 1306.5,1640" fill="none" stroke="#ec86a0" stroke-width="2.5" stroke-linejoin="miter"/>
<circle cx="805.5" cy="1522.5" r="2.8" fill="#111"/>
<circle cx="934.4" cy="1522.5" r="2.8" fill="#111"/>
<circle cx="1045.3" cy="1522.5" r="2.8" fill="#111"/>
<circle cx="1174.7" cy="1522.5" r="2.8" fill="#111"/>
<line x1="934.4" y1="1522.5" x2="934.4" y2="1640" stroke="#ec86a0" stroke-width="2.5" stroke-linecap="butt"/>
<line x1="1045.3" y1="1522.5" x2="1045.3" y2="1640" stroke="#e8886c" stroke-width="2.5" stroke-linecap="butt"/>
<line x1="1174.7" y1="1522.5" x2="1174.7" y2="1640" stroke="#ec86a0" stroke-width="2.5" stroke-linecap="butt"/>
<line x1="805.5" y1="1522.5" x2="805.5" y2="1640" stroke="#d42630" stroke-width="1.8" stroke-linecap="butt"/>
<text transform="translate(800 1515) rotate(-90)">RED/WHT</text>
<rect x="350" y="1638.5" width="82" height="44.5" fill="none" stroke="#444" stroke-width="1.1"/>
<text x="389" y="1700" text-anchor="middle">IAT TEMPERATURE</text>
<text x="389" y="1713" text-anchor="middle">SENSOR</text>
<text x="389" y="1669.5" text-anchor="middle">NTC</text>
<text transform="translate(357 1623.72) rotate(-90)">GRY/WHT 1</text>
<text transform="translate(412.5 1619.69) rotate(-90)">PNK/BLK 1</text>
<rect x="457" y="1641" width="145.5" height="44" fill="none" stroke="#444" stroke-width="1.1"/>
<text x="529" y="1696.5" text-anchor="middle">KNOCK SENSORS</text>
<text transform="translate(469 1575.44) rotate(-90)">GRN</text>
<line x1="474" y1="1578" x2="474" y2="1641" stroke="#333" stroke-width="2.6" stroke-linecap="butt"/>
<text transform="translate(468 1639) rotate(-90)">6</text>
<text transform="translate(505 1574.22) rotate(-90)">BRN</text>
<line x1="510" y1="1578" x2="510" y2="1641" stroke="#333" stroke-width="2.6" stroke-linecap="butt"/>
<text transform="translate(504 1639) rotate(-90)">6</text>
<text transform="translate(542 1571.81) rotate(-90)">YEL</text>
<line x1="547" y1="1578" x2="547" y2="1641" stroke="#333" stroke-width="2.6" stroke-linecap="butt"/>
<text transform="translate(541 1639) rotate(-90)">7</text>
<text transform="translate(580.3 1574.64) rotate(-90)">GRY</text>
<line x1="585.3" y1="1578" x2="585.3" y2="1641" stroke="#333" stroke-width="2.6" stroke-linecap="butt"/>
<text transform="translate(579.3 1639) rotate(-90)">0</text>
<rect x="630" y="1637.4" width="76.6" height="50.6" fill="none" stroke="#444" stroke-width="1.1"/>
<text x="667" y="1698.5" text-anchor="middle">TEMP</text>
<text x="667" y="1711.5" text-anchor="middle">TEMP SENSOR</text>
<text x="667" y="1724.5" text-anchor="middle">ENGINE</text>
<text x="667" y="1668.4" text-anchor="middle">NTC</text>
<text transform="translate(635 1621.69) rotate(-90)">WHT/BLU 1</text>
<text transform="translate(688.6 1625.14) rotate(-90)">ORG/WHT 1</text>
<rect x="749" y="1640.4" width="78" height="43" fill="none" stroke="#444" stroke-width="1.1"/>
<text x="789" y="1697" text-anchor="middle">EXHAUST</text>
<text x="789" y="1710" text-anchor="middle">SENSOR</text>
<text x="789" y="1723" text-anchor="middle">VANOS</text>
<text transform="translate(764 1612) rotate(-90)">1 2</text>
<text transform="translate(782.5 1612) rotate(-90)">1 2</text>
<text transform="translate(800.5 1621.3) rotate(-90)">RED/WHT 1</text>
<rect x="844.4" y="1640.8" width="108.8" height="44.8" fill="none" stroke="#444" stroke-width="1.1"/>
<text x="896" y="1698" text-anchor="middle">CRANKSHAFT</text>
<text x="896" y="1711" text-anchor="middle">CAM POSITION</text>
<text x="896" y="1724" text-anchor="middle">SENSOR</text>
<text transform="translate(856.2 1590.19) rotate(-90)">TAN</text>
<line x1="861.2" y1="1596" x2="861.2" y2="1640.8" stroke="#333" stroke-width="2.6" stroke-linecap="butt"/>
<text transform="translate(855.7 1638.8) rotate(-90)">X7028</text>
<text transform="translate(893.8 1592.81) rotate(-90)">YEL</text>
<line x1="898.8" y1="1596" x2="898.8" y2="1640.8" stroke="#333" stroke-width="2.6" stroke-linecap="butt"/>
<text transform="translate(893.3 1638.8) rotate(-90)">X7291</text>
<text transform="translate(930.6 1590.31) rotate(-90)">RED/WHT</text>
<line x1="935.6" y1="1596" x2="935.6" y2="1640.8" stroke="#333" stroke-width="2.6" stroke-linecap="butt"/>
<text transform="translate(930.1 1638.8) rotate(-90)">X7549</text>
<rect x="982" y="1637.6" width="76.8" height="75.2" fill="none" stroke="#444" stroke-width="1.1"/>
<text x="1019" y="1698" text-anchor="middle">FUEL TEMP</text>
<text x="1019" y="1711" text-anchor="middle">SENSOR</text>
<text x="1019" y="1668.6" text-anchor="middle">NTC</text>
<text transform="translate(986.6 1625.72) rotate(-90)">WHT/GRY 1</text>
<text transform="translate(1041 1625.14) rotate(-90)">ORG/WHT 1</text>
<rect x="1083" y="1641" width="111" height="43.5" fill="none" stroke="#444" stroke-width="1.1"/>
<text x="1139" y="1698.5" text-anchor="middle">EXHAUST</text>
<text x="1139" y="1711.5" text-anchor="middle">SENSOR</text>
<text x="1139" y="1724.5" text-anchor="middle">VANOS</text>
<text transform="translate(1096 1590.19) rotate(-90)">TAN</text>
<line x1="1101" y1="1596" x2="1101" y2="1641" stroke="#333" stroke-width="2.6" stroke-linecap="butt"/>
<text transform="translate(1095.5 1639) rotate(-90)">X8707</text>
<text transform="translate(1133 1594.81) rotate(-90)">YEL</text>
<line x1="1138" y1="1596" x2="1138" y2="1641" stroke="#333" stroke-width="2.6" stroke-linecap="butt"/>
<text transform="translate(1132.5 1639) rotate(-90)">X8966</text>
<text transform="translate(1169.7 1594.31) rotate(-90)">RED/WHT</text>
<line x1="1174.7" y1="1596" x2="1174.7" y2="1641" stroke="#333" stroke-width="2.6" stroke-linecap="butt"/>
<text transform="translate(1169.2 1639) rotate(-90)">X9222</text>
<rect x="1212" y="1640" width="111" height="45" fill="none" stroke="#444" stroke-width="1.1"/>
<text x="1268" y="1698.5" text-anchor="middle">EXHAUST</text>
<text x="1268" y="1711.5" text-anchor="middle">SENSOR</text>
<text x="1268" y="1724.5" text-anchor="middle">INTAKE</text>
<text transform="translate(1224.5 1589.19) rotate(-90)">TAN</text>
<line x1="1229.5" y1="1596" x2="1229.5" y2="1640" stroke="#333" stroke-width="2.6" stroke-linecap="butt"/>
<text transform="translate(1224 1638) rotate(-90)">X9606</text>
<text transform="translate(1261.7 1594.81) rotate(-90)">YEL</text>
<line x1="1266.7" y1="1596" x2="1266.7" y2="1640" stroke="#333" stroke-width="2.6" stroke-linecap="butt"/>
<text transform="translate(1261.2 1638) rotate(-90)">X9866</text>
<text transform="translate(1301 1594.31) rotate(-90)">RED/WHT</text>
<line x1="1306" y1="1596" x2="1306" y2="1640" stroke="#333" stroke-width="2.6" stroke-linecap="butt"/>
<text transform="translate(1300.5 1638) rotate(-90)">X1142</text>
<circle cx="490.5" cy="1655.7" r="11" fill="none" stroke="#555" stroke-width="1"/>
<circle cx="564" cy="1655.7" r="11" fill="none" stroke="#555" stroke-width="1"/>
<ellipse cx="490.5" cy="1655.7" rx="5" ry="10" fill="#111"/>
<ellipse cx="564" cy="1655.7" rx="5" ry="10" fill="#111"/>
<text x="77" y="1736" font-size="9" style="fill:#555;stroke:#555">ENGINE CONTROL</text>
</g>
</g></g>
<g clip-path="url(#cb)"><use href="#dia" filter="url(#bl)"/></g>
</svg>
</body></html>
